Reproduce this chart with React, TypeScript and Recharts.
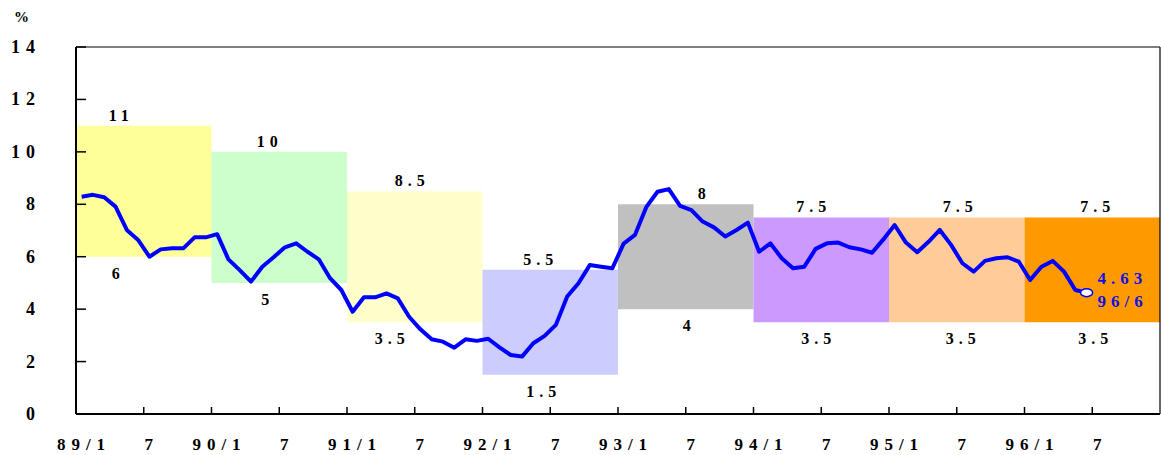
import { LineChart, Line, XAxis, YAxis, ReferenceArea, ReferenceLine } from 'recharts'

// monthly rate, 89/1 .. 96/6
const rates = [
  8.29, 8.36, 8.27, 7.91, 7.02, 6.64, 6.0, 6.28, 6.32, 6.32, 6.74, 6.74,
  6.86, 5.9, 5.49, 5.05, 5.62, 5.98, 6.36, 6.51, 6.19, 5.9, 5.18, 4.73,
  3.9, 4.45, 4.45, 4.6, 4.41, 3.71, 3.23, 2.85, 2.76, 2.53, 2.85, 2.79,
  2.87, 2.54, 2.25, 2.19, 2.7, 2.98, 3.4, 4.48, 4.99, 5.68, 5.62, 5.56,
  6.5, 6.83, 7.89, 8.48, 8.58, 7.94, 7.78, 7.34, 7.12, 6.77, 7.02, 7.3,
  6.19, 6.51, 5.94, 5.56, 5.62, 6.3, 6.51, 6.54, 6.36, 6.28, 6.15, 6.66,
  7.21, 6.54, 6.17, 6.57, 7.02, 6.45, 5.75, 5.43, 5.84, 5.94, 5.98, 5.81,
  5.11, 5.62, 5.84, 5.43, 4.73, 4.63,
]

const bandHigh = [11, 10, 8.5, 5.5, 8, 7.5, 7.5, 7.5]
const bandLow = [6, 5, 3.5, 1.5, 4, 3.5, 3.5, 3.5]
const bandColors = ['#ffff99', '#ccffcc', '#ffffcc', '#ccccff', '#c0c0c0', '#cc99ff', '#ffcc99', '#ff9900']

const xTicks = [0, 6, 12, 18, 24, 30, 36, 42, 48, 54, 60, 66, 72, 78, 84, 90]
const xTickLabels = ['89/1', '7', '90/1', '7', '91/1', '7', '92/1', '7', '93/1', '7', '94/1', '7', '95/1', '7', '96/1', '7']
const yTicks = [0, 2, 4, 6, 8, 10, 12, 14]

const lastValue = '4.63'
const lastMonth = '96/6'

// nudges for the band labels (px)
const topShift = [-25, -12, -5, -12, 16, -10, 1, 3]
const bottomShift = [-28, -14, -25, -9, 1, -5, 4, 1]

const FONT = '"Liberation Serif", "Times New Roman", serif'
const BLUE = '#0000ff'

const data = rates.map((v, i) => ({ x: i + 0.5, rate: v }))

function XTick(props: any) {
  const { x, y, payload } = props
  const label = xTickLabels[xTicks.indexOf(payload.value)]
  return (
    <text x={x + 8} y={y} textAnchor="middle" fontFamily={FONT} fontWeight="bold" fontSize={17} letterSpacing={6} fill="#000">
      {label}
    </text>
  )
}

function YTick(props: any) {
  const { x, y, payload } = props
  return (
    <text x={x} y={y + 6} textAnchor="end" fontFamily={FONT} fontWeight="bold" fontSize={18} letterSpacing={6} fill="#000">
      {String(payload.value)}
    </text>
  )
}

function bandLabel(i: number) {
  return (props: any) => {
    const vb = props.viewBox
    if (!vb) return null
    const cx = vb.x + vb.width / 2 + 2.5
    return (
      <g fontFamily={FONT} fontWeight="bold" fontSize={16} letterSpacing={5} fill="#000">
        <text x={cx + topShift[i]} y={vb.y - 5} textAnchor="middle">{String(bandHigh[i])}</text>
        <text x={cx + bottomShift[i]} y={vb.y + vb.height + 22} textAnchor="middle">{String(bandLow[i])}</text>
      </g>
    )
  }
}

function EndDot(props: any) {
  const { cx, cy, index } = props
  if (index !== rates.length - 1) return <g key={index} />
  return (
    <g key={index}>
      <ellipse cx={cx} cy={cy} rx={6} ry={4} fill="#fff" stroke={BLUE} strokeWidth={1.5} />
      <g fontFamily={FONT} fontWeight="bold" fontSize={17} letterSpacing={5} fill="#1010e0">
        <text x={cx + 11} y={cy - 9}>{lastValue}</text>
        <text x={cx + 11} y={cy + 14}>{lastMonth}</text>
      </g>
    </g>
  )
}

export default function App() {
  return (
    <div style={{ position: 'absolute', left: 0, top: 0, background: '#fff' }}>
      <span style={{ position: 'absolute', left: 14, top: 9, fontFamily: FONT, fontWeight: 'bold', fontSize: 15 }}>%</span>
      <LineChart width={1161} height={455} data={data} margin={{ top: 47, right: 1, bottom: 0, left: 0 }}>
        {bandHigh.map((h, i) => (
          <ReferenceArea
            key={i}
            x1={i * 12}
            x2={i * 12 + 12}
            y1={bandLow[i]}
            y2={h}
            fill={bandColors[i]}
            fillOpacity={1}
            stroke="none"
            label={bandLabel(i)}
          />
        ))}
        <XAxis
          dataKey="x"
          type="number"
          domain={[0, 96]}
          ticks={xTicks}
          height={41}
          tickSize={-7}
          tickMargin={43}
          tick={<XTick />}
          axisLine={{ stroke: '#000', strokeWidth: 2 }}
          tickLine={{ stroke: '#000', strokeWidth: 1.5 }}
          interval={0}
        />
        <YAxis
          type="number"
          domain={[0, 14]}
          ticks={yTicks}
          width={76}
          tickSize={-10}
          tickMargin={45}
          tick={<YTick />}
          axisLine={{ stroke: '#000', strokeWidth: 2 }}
          tickLine={{ stroke: '#000', strokeWidth: 1.5 }}
          interval={0}
        />
        <ReferenceLine y={14} stroke="#000" strokeWidth={1.2} />
        <ReferenceLine x={96} stroke="#000" strokeWidth={1.2} />
        <Line
          type="linear"
          dataKey="rate"
          stroke={BLUE}
          strokeWidth={4}
          strokeLinejoin="round"
          dot={EndDot}
          activeDot={false}
          isAnimationActive={false}
        />
      </LineChart>
    </div>
  )
}
